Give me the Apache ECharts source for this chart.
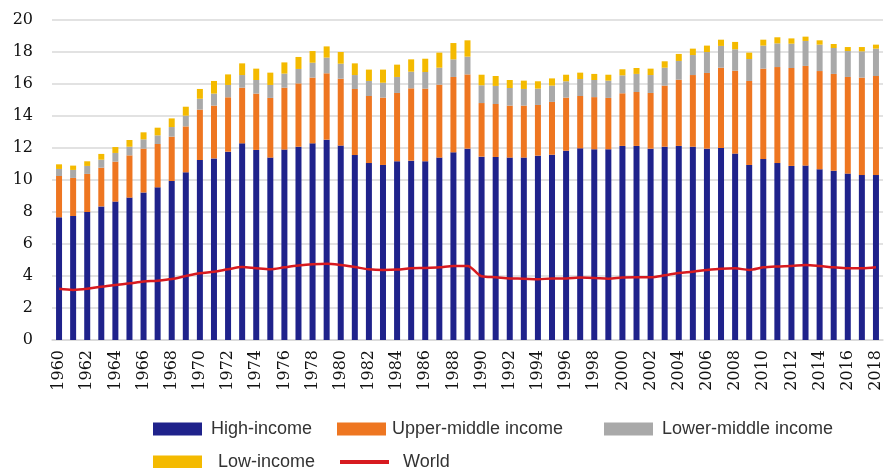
<!DOCTYPE html>
<html>
<head>
<meta charset="utf-8">
<script src="https://cdn.jsdelivr.net/npm/echarts@6/dist/echarts.min.js"></script>
<style>
  html, body { margin: 0; padding: 0; background: #fff; }
  #chart { width: 885px; height: 468px; }
</style>
</head>
<body>
<div id="chart"></div>
<script>
const YEARS = [];
for (let y = 1960; y <= 2018; y++) YEARS.push(String(y));

// stacked segments
const HIGH_INCOME = [
  7.67, 7.75, 8.0, 8.35, 8.65, 8.9, 9.22, 9.54, 9.94, 10.48,
  11.25, 11.35, 11.77, 12.29, 11.88, 11.4, 11.9, 12.08, 12.29, 12.52,
  12.15, 11.56, 11.06, 10.94, 11.17, 11.21, 11.17, 11.4, 11.73, 11.96,
  11.46, 11.44, 11.4, 11.4, 11.52, 11.58, 11.83, 11.98, 11.92, 11.92,
  12.13, 12.13, 11.96, 12.08, 12.13, 12.08, 11.96, 12.0, 11.65, 10.94,
  11.31, 11.06, 10.88, 10.9, 10.67, 10.58, 10.4, 10.31, 10.31
];
const UPPER_MIDDLE = [
  2.58, 2.38, 2.38, 2.42, 2.5, 2.64, 2.74, 2.71, 2.77, 2.87,
  3.15, 3.3, 3.4, 3.48, 3.52, 3.73, 3.87, 3.96, 4.11, 4.15,
  4.18, 4.13, 4.19, 4.21, 4.27, 4.52, 4.54, 4.56, 4.71, 4.64,
  3.35, 3.31, 3.25, 3.25, 3.17, 3.3, 3.32, 3.27, 3.26, 3.21,
  3.29, 3.37, 3.48, 3.82, 4.14, 4.48, 4.73, 5.02, 5.18, 5.25,
  5.65, 6.0, 6.12, 6.23, 6.14, 6.05, 6.04, 6.09, 6.19
];
const LOWER_MIDDLE = [
  0.44, 0.5, 0.5, 0.5, 0.54, 0.54, 0.58, 0.54, 0.6, 0.67,
  0.68, 0.75, 0.77, 0.79, 0.85, 0.81, 0.88, 0.9, 0.93, 0.98,
  0.94, 0.87, 0.94, 0.93, 1.0, 1.04, 1.04, 1.06, 1.1, 1.11,
  1.11, 1.13, 1.1, 1.04, 1.02, 1.02, 1.02, 1.06, 1.07, 1.08,
  1.12, 1.13, 1.12, 1.12, 1.17, 1.25, 1.31, 1.36, 1.34, 1.37,
  1.44, 1.48, 1.52, 1.56, 1.65, 1.62, 1.62, 1.64, 1.71
];
const LOW_INCOME = [
  0.29, 0.27, 0.29, 0.36, 0.37, 0.42, 0.44, 0.48, 0.54, 0.56,
  0.61, 0.79, 0.66, 0.73, 0.71, 0.77, 0.7, 0.75, 0.73, 0.7,
  0.73, 0.73, 0.71, 0.82, 0.77, 0.77, 0.83, 0.94, 1.02, 1.02,
  0.66, 0.62, 0.5, 0.52, 0.46, 0.45, 0.41, 0.4, 0.38, 0.37,
  0.38, 0.37, 0.4, 0.4, 0.44, 0.4, 0.4, 0.39, 0.46, 0.4,
  0.37, 0.38, 0.33, 0.27, 0.27, 0.25, 0.25, 0.27, 0.25
];
const WORLD = [
  3.2, 3.13, 3.2, 3.33, 3.44, 3.54, 3.65, 3.71, 3.81, 4.0,
  4.17, 4.27, 4.42, 4.56, 4.48, 4.42, 4.54, 4.65, 4.73, 4.77,
  4.69, 4.56, 4.42, 4.38, 4.4, 4.48, 4.5, 4.54, 4.63, 4.63,
  3.98, 3.92, 3.85, 3.83, 3.79, 3.85, 3.85, 3.9, 3.88, 3.83,
  3.9, 3.92, 3.92, 4.04, 4.19, 4.27, 4.38, 4.46, 4.48, 4.38,
  4.54, 4.6, 4.63, 4.69, 4.63, 4.54, 4.48, 4.48, 4.54
];

const COLORS = {
  high: "#1F228B",
  upper: "#EE7621",
  lower: "#A9A9A9",
  low: "#F4BA00",
  world: "#D71A20"
};

const AXIS_FONT = "'DejaVu Serif', serif";
const LEGEND_FONT = "'Liberation Sans', Arial, sans-serif";

function barSeries(name, data, color) {
  return {
    name,
    type: "bar",
    stack: "total",
    barWidth: 6,
    data,
    itemStyle: { color },
    emphasis: { disabled: true }
  };
}

// one legend per entry so each lands where the original put it
function legendAt(name, left, top, padLeft, height) {
  return {
    data: [{ name, icon: "rect" }],
    left,
    top,
    itemWidth: 49,
    itemHeight: height || 13,
    selectedMode: false,
    textStyle: {
      fontFamily: LEGEND_FONT,
      fontSize: 18,
      color: "#333",
      padding: [0, 0, 0, padLeft]
    }
  };
}

function buildOption() {
  return {
    backgroundColor: "#fff",
    animation: false,
    grid: { left: 52, right: 2, top: 20, bottom: 128 },
    legend: [
      legendAt("High-income", 148, 415, 4),
      legendAt("Upper-middle income", 332, 415, 1),
      legendAt("Lower-middle income", 599, 415, 4),
      legendAt("Low-income", 148, 448, 11),
      legendAt("World", 335, 448, 9, 4)
    ],
    xAxis: {
      type: "category",
      data: YEARS,
      axisTick: { show: false },
      axisLine: { lineStyle: { color: "#D9D9D9", width: 1.5 } },
      axisLabel: {
        interval: 1,
        rotate: 90,
        margin: 10,
        fontFamily: AXIS_FONT,
        fontSize: 16,
        color: "#111"
      }
    },
    yAxis: {
      type: "value",
      min: 0,
      max: 20,
      interval: 2,
      axisLine: { show: false },
      axisTick: { show: false },
      splitLine: { lineStyle: { color: "#D9D9D9", width: 1.5 } },
      axisLabel: {
        margin: 19,
        fontFamily: AXIS_FONT,
        fontSize: 16,
        color: "#111"
      }
    },
    series: [
      barSeries("High-income", HIGH_INCOME, COLORS.high),
      barSeries("Upper-middle income", UPPER_MIDDLE, COLORS.upper),
      barSeries("Lower-middle income", LOWER_MIDDLE, COLORS.lower),
      barSeries("Low-income", LOW_INCOME, COLORS.low),
      {
        name: "World",
        type: "line",
        data: WORLD,
        smooth: 0.3,
        symbol: "none",
        z: 5,
        lineStyle: { color: COLORS.world, width: 2.5 },
        itemStyle: { color: COLORS.world }
      }
    ]
  };
}

function init() {
  const host = document.getElementById("chart");
  if (!host || !window.echarts) return;
  const chart = echarts.init(host, null, { renderer: "canvas" });
  chart.setOption(buildOption());
}

init();
</script>
</body>
</html>
